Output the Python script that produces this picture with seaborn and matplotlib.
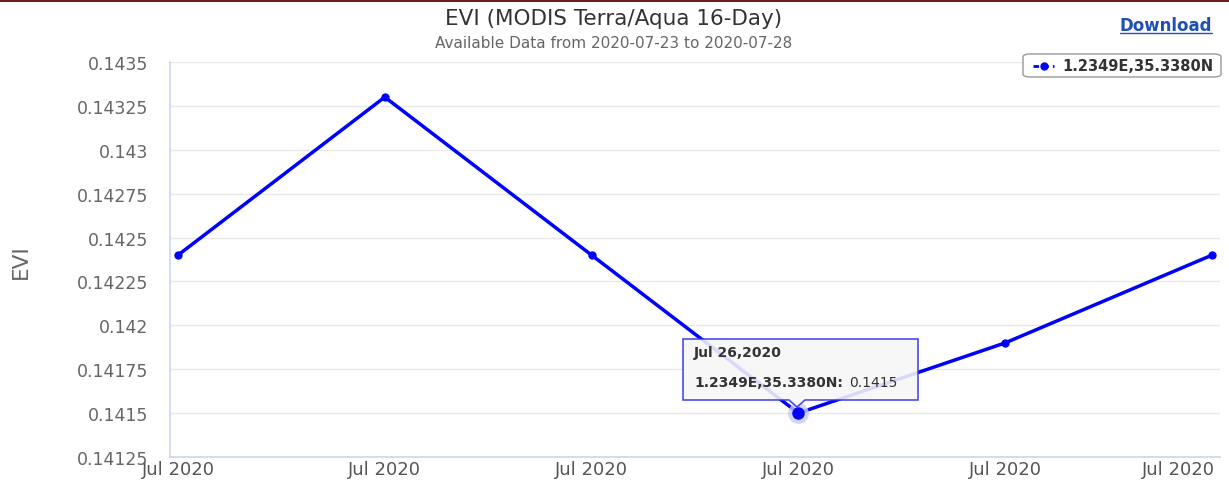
import matplotlib
matplotlib.use("Agg")
import matplotlib.pyplot as plt
import matplotlib.transforms as mtransforms
import seaborn as sns
import pandas as pd
from matplotlib.patches import FancyBboxPatch, Rectangle, Polygon
from matplotlib.lines import Line2D
from matplotlib import font_manager

days = [23, 24, 25, 26, 27, 28]
evi = [0.1424, 0.1433, 0.1424, 0.1415, 0.1419, 0.1424]
x_labels = ["Jul 2020"] * 6
y_ticks = [0.14125, 0.1415, 0.14175, 0.142, 0.14225, 0.1425, 0.14275, 0.143, 0.14325, 0.1435]
y_tick_labels = ["0.14125", "0.1415", "0.14175", "0.142", "0.14225", "0.1425", "0.14275", "0.143", "0.14325", "0.1435"]
series_name = "1.2349E,35.3380N"
title = "EVI (MODIS Terra/Aqua 16-Day)"
subtitle = "Available Data from 2020-07-23 to 2020-07-28"
tooltip_date = "Jul 26,2020"
tooltip_idx = 3

df = pd.DataFrame({"day": days, "evi": evi})

sns.set_theme(style="white")
plt.rcParams['font.family'] = ['DejaVu Sans']

names = {f.name for f in font_manager.fontManager.ttflist}
narrow = "Liberation Sans Narrow" if "Liberation Sans Narrow" in names else "DejaVu Sans"

fig = plt.figure(figsize=(12.29, 4.81), dpi=100)
ax = fig.add_axes([170/1229, 1-458/481, (1220-170)/1229, (458-63)/481])

blue = "#0000ff"
sns.lineplot(data=df, x="day", y="evi", ax=ax, color=blue, linewidth=2.5,
             marker="o", markersize=6, markeredgewidth=0, zorder=3)

ax.set_xlim(23 - 8/206.8, 28 + 8/206.8)
ax.set_ylim(0.14125, 0.1435)
ax.set_yticks(y_ticks)
ax.set_yticklabels(y_tick_labels)
ax.set_xticks(days)
ax.set_xticklabels(x_labels)
ax.grid(axis="y", color="#e8e8e8", linewidth=1)
ax.grid(axis="x", visible=False)
for s in ["top", "right"]:
    ax.spines[s].set_visible(False)
for s in ["left", "bottom"]:
    ax.spines[s].set_color("#ccd6eb")
    ax.spines[s].set_linewidth(1.2)
ax.tick_params(axis="y", length=5, width=1, color="#e8e8e8", pad=11,
               labelsize=12.5, labelcolor="#666666")
ax.tick_params(axis="x", length=5, width=1, color="#ccd6eb", pad=-3,
               labelsize=13, labelcolor="#555555", direction="out")
xl = ax.get_xticklabels()
xl[-1].set_ha("right")
xl[-1].set_transform(xl[-1].get_transform() +
                     mtransforms.ScaledTranslation(3/100, 0, fig.dpi_scale_trans))
ax.set_xlabel("")
ax.set_ylabel("")
fig.text(21/1229, 1-262/481, "EVI", rotation=90, ha="center", va="center",
         fontsize=15.5, color="#666666", family=narrow)

# highlighted point halo
ax.plot([days[tooltip_idx]], [evi[tooltip_idx]], marker="o", markersize=15,
        color="#c8c8ff", alpha=0.8, zorder=4, markeredgewidth=0)
ax.plot([days[tooltip_idx]], [evi[tooltip_idx]], marker="o", markersize=9,
        color=blue, zorder=5, markeredgewidth=0)

# tooltip (box with pointer)
def fp(x, y):
    return (x/1229, 1-y/481)
tip = Polygon([fp(683, 340), fp(918, 340), fp(918, 401), fp(805, 401), fp(797, 408),
               fp(789, 401), fp(683, 401)], closed=True, transform=fig.transFigure,
              facecolor="#f7f7f7", edgecolor="#3333ee", linewidth=1.2, alpha=0.88,
              zorder=10)
fig.patches.append(tip)
fig.text(694/1229, 1-353/481, tooltip_date, fontsize=10, fontweight="bold",
         color="#333333", va="center", ha="left", zorder=11)
fig.text(694/1229, 1-383/481, series_name + ":", fontsize=10, fontweight="bold",
         color="#333333", va="center", ha="left", zorder=11)
fig.text(849/1229, 1-383/481, f"{evi[tooltip_idx]:.4f}", fontsize=10,
         color="#333333", va="center", ha="left", zorder=11)

# title
fig.text(614/1229, 1-19/481, title, ha="center", va="center", fontsize=15.5, color="#333333")
fig.text(614/1229, 1-44/481, subtitle, ha="center", va="center", fontsize=11, color="#666666")

# download
fig.text(1212/1229, 1-26/481, "Download", ha="right", va="center", fontsize=12,
         fontweight="bold", color="#1f4fb4")
fig.add_artist(Line2D([1120/1229, 1212/1229], [1-34/481, 1-34/481],
                      transform=fig.transFigure, color="#1f4fb4", linewidth=1))

# legend
lbox = FancyBboxPatch((1023/1229, 1-78/481), 198/1229, 23/481,
                      boxstyle="round,pad=0,rounding_size=0.006",
                      transform=fig.transFigure, facecolor="white",
                      edgecolor="#999999", linewidth=1, zorder=10)
fig.patches.append(lbox)
fig.add_artist(Line2D([1033/1229, 1054/1229], [1-66.5/481, 1-66.5/481],
                      transform=fig.transFigure, color=blue, linewidth=2,
                      linestyle=(0, (2, 1.5)), zorder=11))
fig.add_artist(Line2D([1043.5/1229], [1-66.5/481], transform=fig.transFigure,
                      color=blue, marker="o", markersize=5, zorder=12))
fig.text(1062/1229, 1-66.5/481, series_name, fontsize=10.5, fontweight="bold",
         color="#333333", va="center", ha="left", zorder=11)

# top bar
fig.patches.append(Rectangle((0, 1-3/481), 1, 3/481, transform=fig.transFigure,
                             facecolor="#6b1f1f", edgecolor="none"))

fig.savefig("out.png", dpi=100)
